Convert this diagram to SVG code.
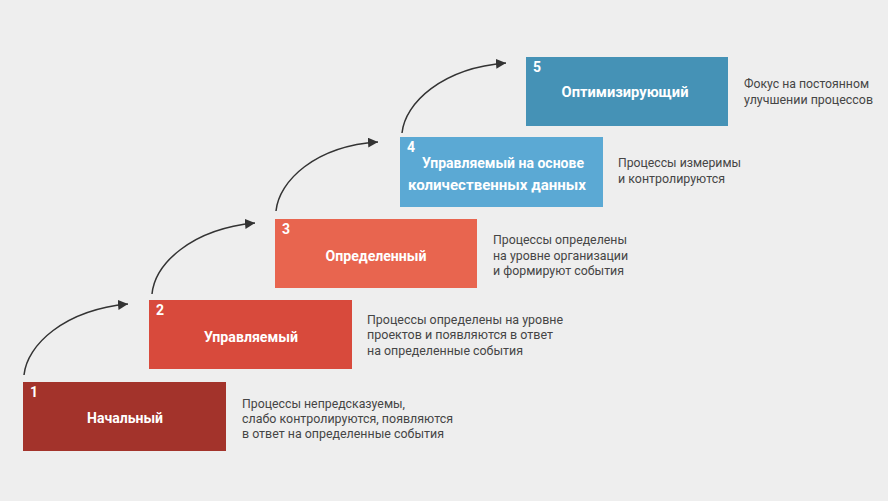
<svg xmlns="http://www.w3.org/2000/svg" width="888" height="501" viewBox="0 0 888 501">
<style>
.num{font-family:Roboto,"Liberation Sans",sans-serif;font-weight:bold;font-size:14px;fill:#fff}
.title{font-family:Roboto,"Liberation Sans",sans-serif;font-weight:bold;font-size:15px;fill:#fff;text-anchor:middle}
.desc{font-family:Roboto,"Liberation Sans",sans-serif;font-size:13.5px;fill:#454545}
.arrow{fill:none;stroke:#333;stroke-width:1.5}
</style>
<defs>
<marker id="ah" markerUnits="userSpaceOnUse" markerWidth="12" markerHeight="10" refX="10" refY="5" orient="auto">
<path d="M0,0 L10,5 L0,10 Z" fill="#333"/>
</marker>
</defs>
<rect width="888" height="501" fill="#eeeeee"/>
<g id="connectors">
<path class="arrow" marker-end="url(#ah)" d="M24,375 C27,345 64,310 128,304"/>
<path class="arrow" marker-end="url(#ah)" d="M152,294 C155,264 191,229 255,223"/>
<path class="arrow" marker-end="url(#ah)" d="M276,211 C279,181 315,146 378,142"/>
<path class="arrow" marker-end="url(#ah)" d="M402,133 C405,103 442,68 506,63"/>
</g>
<g id="node1">
<rect x="23" y="382" width="203" height="69" fill="#a3332b"/>
<text class="num" x="30" y="397">1</text>
<text class="title" x="125" y="423" textLength="76" lengthAdjust="spacingAndGlyphs">Начальный</text>
<text class="desc" x="242" y="408" textLength="163" lengthAdjust="spacingAndGlyphs">Процессы непредсказуемы,</text>
<text class="desc" x="242" y="423" textLength="211" lengthAdjust="spacingAndGlyphs">слабо контролируются, появляются</text>
<text class="desc" x="242" y="438" textLength="202" lengthAdjust="spacingAndGlyphs">в ответ на определенные события</text>
</g>
<g id="node2">
<rect x="149" y="300" width="203" height="69" fill="#d84a3c"/>
<text class="num" x="156" y="315">2</text>
<text class="title" x="251" y="342" textLength="94" lengthAdjust="spacingAndGlyphs">Управляемый</text>
<text class="desc" x="367" y="324" textLength="196" lengthAdjust="spacingAndGlyphs">Процессы определены на уровне</text>
<text class="desc" x="367" y="339" textLength="186" lengthAdjust="spacingAndGlyphs">проектов и появляются в ответ</text>
<text class="desc" x="367" y="355" textLength="156" lengthAdjust="spacingAndGlyphs">на определенные события</text>
</g>
<g id="node3">
<rect x="275" y="219" width="202" height="69" fill="#e8654f"/>
<text class="num" x="282" y="234">3</text>
<text class="title" x="376" y="261" textLength="101" lengthAdjust="spacingAndGlyphs">Определенный</text>
<text class="desc" x="493" y="244" textLength="134" lengthAdjust="spacingAndGlyphs">Процессы определены</text>
<text class="desc" x="493" y="260" textLength="135" lengthAdjust="spacingAndGlyphs">на уровне организации</text>
<text class="desc" x="493" y="275" textLength="131" lengthAdjust="spacingAndGlyphs">и формируют события</text>
</g>
<g id="node4">
<rect x="400" y="137" width="203" height="70" fill="#5ba9d4"/>
<text class="num" x="407" y="152">4</text>
<text class="title" x="503" y="168" textLength="162" lengthAdjust="spacingAndGlyphs">Управляемый на основе</text>
<text class="title" x="497" y="190" textLength="178" lengthAdjust="spacingAndGlyphs">количественных данных</text>
<text class="desc" x="618" y="167" textLength="123" lengthAdjust="spacingAndGlyphs">Процессы измеримы</text>
<text class="desc" x="618" y="183" textLength="107" lengthAdjust="spacingAndGlyphs">и контролируются</text>
</g>
<g id="node5">
<rect x="526" y="57" width="202" height="69" fill="#4592b6"/>
<text class="num" x="533" y="72">5</text>
<text class="title" x="625" y="97" textLength="127" lengthAdjust="spacingAndGlyphs">Оптимизирующий</text>
<text class="desc" x="744" y="88" textLength="125" lengthAdjust="spacingAndGlyphs">Фокус на постоянном</text>
<text class="desc" x="744" y="104" textLength="129" lengthAdjust="spacingAndGlyphs">улучшении процессов</text>
</g>
</svg>
